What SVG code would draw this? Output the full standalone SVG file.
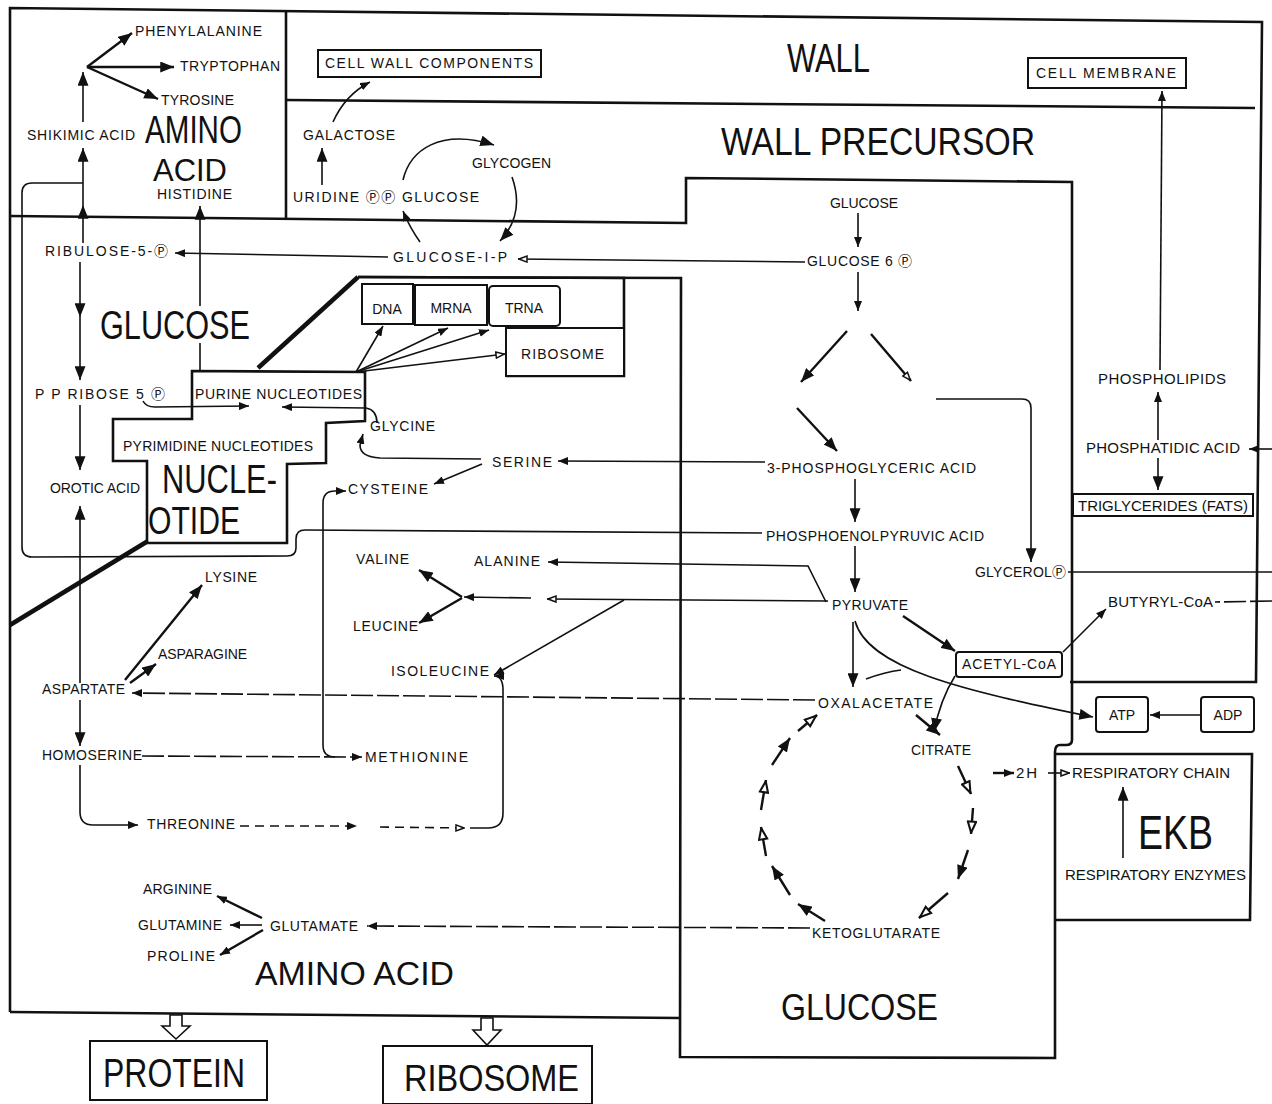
<svg xmlns="http://www.w3.org/2000/svg" width="1272" height="1104" viewBox="0 0 1272 1104">
<defs>
<style>
.t{font-family:"Liberation Sans","Noto Sans CJK JP",sans-serif;font-size:14px;fill:#111}
.m{font-size:15px}
.c{text-anchor:middle}
.big{font-family:"Liberation Sans",sans-serif;fill:#111}
.ln{fill:none;stroke:#111;stroke-width:1.6}
.th{fill:none;stroke:#111;stroke-width:2.4}
.ds{fill:none;stroke:#111;stroke-width:1.6;stroke-dasharray:22 4}
.dt{fill:none;stroke:#111;stroke-width:1.6;stroke-dasharray:9 6}
.cy{fill:none;stroke:#111;stroke-width:2.4}
.fr{fill:none;stroke:#111;stroke-width:2.6}
.hv{fill:none;stroke:#111;stroke-width:4.5}
.bx{fill:#fff;stroke:#111;stroke-width:2}
.ho{fill:#fff;stroke:#111;stroke-width:1.6}
</style>
<marker id="ah" viewBox="0 0 10 8" refX="10" refY="4" markerWidth="10" markerHeight="8" orient="auto" markerUnits="userSpaceOnUse"><path d="M0,0L10,4L0,8z" fill="#111"/></marker>
<marker id="aL" viewBox="0 0 10 8" refX="10" refY="4" markerWidth="14" markerHeight="11" orient="auto" markerUnits="userSpaceOnUse"><path d="M0,0L10,4L0,8z" fill="#111"/></marker>
<marker id="ao" viewBox="0 0 10 8" refX="10" refY="4" markerWidth="10" markerHeight="8" orient="auto" markerUnits="userSpaceOnUse"><path d="M1,1L9,4L1,7z" fill="#fff" stroke="#111" stroke-width="1.5"/></marker>
<marker id="aoL" viewBox="0 0 10 8" refX="10" refY="4" markerWidth="14" markerHeight="11" orient="auto" markerUnits="userSpaceOnUse"><path d="M1,1L9,4L1,7z" fill="#fff" stroke="#111" stroke-width="1.5"/></marker>
</defs>
<rect width="1272" height="1104" fill="#fff"/>

<g id="regions">
<path class="fr" d="M10,1012 L10,8 L1262,22 L1256,682 L1070,682"/>
<path class="fr" d="M286,10 L286,218"/>
<path class="fr" d="M286,100 L1255,108"/>
<path class="fr" d="M10,216 L686,223 L686,178 L1072,182 L1072,740 Q1072,745 1066,745 L1060,745 Q1055,745 1055,752 L1055,1058 L680,1057 L681,278 L358,277"/>
<path class="fr" d="M10,1012 L680,1018"/>
<path class="fr" d="M1055,754 L1252,754 L1250,920 L1055,920"/>
<path class="hv" d="M258,368 L358,277"/>
<path class="hv" d="M10,625 L148,541"/>
<path class="fr" d="M358,277 L624,278 L624,376 L506,376"/>
<text class="big" x="787" y="72" font-size="40" textLength="83" lengthAdjust="spacingAndGlyphs">WALL</text>
<text class="big" x="721" y="155" font-size="39" textLength="314" lengthAdjust="spacingAndGlyphs">WALL PRECURSOR</text>
<text class="big" x="145" y="143" font-size="38" textLength="97" lengthAdjust="spacingAndGlyphs">AMINO</text>
<text class="big" x="153" y="181" font-size="31" textLength="74" lengthAdjust="spacingAndGlyphs">ACID</text>
<text class="big" x="100" y="339" font-size="41" textLength="150" lengthAdjust="spacingAndGlyphs">GLUCOSE</text>
<text class="big" x="255" y="985" font-size="34" textLength="199" lengthAdjust="spacingAndGlyphs">AMINO ACID</text>
<text class="big" x="781" y="1020" font-size="37" textLength="157" lengthAdjust="spacingAndGlyphs">GLUCOSE</text>
<text class="big" x="1138" y="849" font-size="48" textLength="75" lengthAdjust="spacingAndGlyphs">EKB</text>
</g>

<g id="nucleotide">
<path class="fr" d="M192,371 L365,372 L365,421 L326,423 L326,463 L287,464 L287,543 L147,543 L147,461 L113,461 L113,419 L192,419 Z"/>
<text class="t" x="195" y="399" textLength="167">PURINE NUCLEOTIDES</text>
<text class="t" x="123" y="451" textLength="190">PYRIMIDINE NUCLEOTIDES</text>
<text class="big" x="162" y="493" font-size="41" textLength="115" lengthAdjust="spacingAndGlyphs">NUCLE-</text>
<text class="big" x="148" y="534" font-size="39" textLength="92" lengthAdjust="spacingAndGlyphs">OTIDE</text>
</g>

<g id="connectors">
<path class="th" d="M87,67 L132,33" marker-end="url(#aL)"/>
<path class="th" d="M87,67 L174,67" marker-end="url(#aL)"/>
<path class="th" d="M87,67 L158,99" marker-end="url(#aL)"/>
<path class="ln" d="M83,122 L83,72" marker-end="url(#aL)"/>
<path class="ln" d="M83,205 L83,148" marker-end="url(#aL)"/>
<path class="ln" d="M83,243 L83,205" marker-end="url(#aL)"/>
<path class="ln" d="M762,533 L305,530 Q296,530 296,539 L296,548 Q296,556 287,556 L32,557 Q22,557 22,547 L22,193 Q22,183 32,183 L83,183"/>
<path class="ln" d="M200,371 L200,343 M200,306 L200,206" marker-end="url(#aL)"/>
<path class="ln" d="M388,257 L175,253" marker-end="url(#ah)"/>
<path class="ln" d="M80,262 L80,317" marker-end="url(#aL)"/>
<path class="ln" d="M80,317 L80,380" marker-end="url(#aL)"/>
<path class="ln" d="M80,405 L80,470" marker-end="url(#aL)"/>
<path class="ln" d="M80,683 L80,506" marker-end="url(#aL)"/>
<path class="ln" d="M80,700 L80,746" marker-end="url(#aL)"/>
<path class="ln" d="M80,765 L80,812 Q80,825 93,825 L138,825" marker-end="url(#ah)"/>
<path class="th" d="M125,680 L202,585" marker-end="url(#aL)"/>
<path class="th" d="M130,683 L156,664" marker-end="url(#aL)"/>
<path class="ln" d="M143,401 Q146,407 155,407 L249,406" marker-end="url(#ah)"/>
<path class="ln" d="M377,423 Q377,410 366,408 L282,407" marker-end="url(#ah)"/>
<path class="ln" d="M481,459 L380,458 Q360,457 360,445 L363,434" marker-end="url(#ah)"/>
<path class="ln" d="M482,464 L434,484" marker-end="url(#ah)"/>
<path class="ln" d="M335,757 Q323,757 323,745 L323,503 Q323,491 335,491 L346,491" marker-end="url(#ah)"/>
<path class="ds" d="M142,756 L362,757" marker-end="url(#ah)"/>
<path class="ln" d="M765,462 L558,461" marker-end="url(#ah)"/>
<path class="ln" d="M858,213 L858,247" marker-end="url(#ah)"/>
<path class="ln" d="M805,262 L518,259" marker-end="url(#ao)"/>
<path class="ln" d="M858,272 L858,311" marker-end="url(#ah)"/>
<path class="th" d="M847,331 L801,382" marker-end="url(#aL)"/>
<path class="th" d="M871,334 L911,381" marker-end="url(#ao)"/>
<path class="th" d="M797,408 L837,451" marker-end="url(#aL)"/>
<path class="ln" d="M936,399 L1022,399 Q1031,399 1031,408 L1031,562" marker-end="url(#aL)"/>
<path class="ln" d="M855,479 L855,522" marker-end="url(#aL)"/>
<path class="ln" d="M855,546 L855,592" marker-end="url(#aL)"/>
<path class="ln" d="M826,602 L808,566 L548,562" marker-end="url(#ah)"/>
<path class="ln" d="M828,601 L547,599" marker-end="url(#ao)"/>
<path class="ln" d="M531,598 L464,597" marker-end="url(#ah)"/>
<path class="th" d="M462,597 L419,570" marker-end="url(#aL)"/>
<path class="th" d="M462,598 L419,623" marker-end="url(#aL)"/>
<path class="ln" d="M624,600 L494,675" marker-end="url(#ah)"/>
<path class="dt" d="M240,826 L357,826" marker-end="url(#ah)"/>
<path class="dt" d="M380,827 L465,828" marker-end="url(#ao)"/>
<path class="ln" d="M470,828 L488,828 Q503,828 503,813 L503,690 Q503,676 494,676" marker-end="url(#ah)"/>
<path class="ds" d="M815,700 L132,693" marker-end="url(#ah)"/>
<path class="ln" d="M853,622 L853,687" marker-end="url(#aL)"/>
<path class="th" d="M903,616 L955,651" marker-end="url(#aL)"/>
<path class="ln" d="M855,621 C868,668 960,690 1093,717" marker-end="url(#aL)"/>
<path class="ln" d="M866,679 Q885,672 901,670"/>
<path class="ln" d="M955,676 Q940,700 934,732" marker-end="url(#aL)"/>
<path class="th" d="M916,715 L940,735" marker-end="url(#aL)"/>
<path class="ln" d="M1063,652 L1106,609" marker-end="url(#ah)"/>
<path class="ln" d="M1201,715 L1150,715" marker-end="url(#ah)"/>
<path class="th" d="M993,773 L1014,773" marker-end="url(#ah)"/>
<path class="ln" d="M1048,773 L1070,773" marker-end="url(#ao)"/>
<path class="ln" d="M1123,858 L1123,787" marker-end="url(#aL)"/>
<path class="ds" d="M810,928 L367,926" marker-end="url(#ah)"/>
<path class="th" d="M262,918 L217,896" marker-end="url(#ah)"/>
<path class="ln" d="M262,925 L230,925" marker-end="url(#ah)"/>
<path class="th" d="M263,930 L220,955" marker-end="url(#ah)"/>
<path class="ln" d="M1158,440 L1158,392" marker-end="url(#ah)"/>
<path class="ln" d="M1158,458 L1158,490" marker-end="url(#aL)"/>
<path class="ln" d="M1160,370 L1162,91" marker-end="url(#ah)"/>
<path class="ln" d="M1272,449 L1249,449" marker-end="url(#ah)"/>
<path class="ln" d="M1272,572 L1068,572"/>
<path class="ds" d="M1272,601 L1215,602"/>
<path class="ln" d="M322,185 L322,148" marker-end="url(#aL)"/>
<path class="ln" d="M333,122 Q345,95 370,82" marker-end="url(#ah)"/>
<path class="ln" d="M420,242 Q410,228 403,211" marker-end="url(#ah)"/>
<path class="ln" d="M403,180 C410,150 440,128 494,145" marker-end="url(#aL)"/>
<path class="ln" d="M512,177 C522,205 515,225 500,241" marker-end="url(#aL)"/>
<path class="ln" d="M356,372 L383,326" marker-end="url(#ah)"/>
<path class="ln" d="M356,372 L448,328" marker-end="url(#ah)"/>
<path class="ln" d="M356,372 L489,330" marker-end="url(#ah)"/>
<path class="ln" d="M356,372 L505,354" marker-end="url(#ao)"/>
<path class="cy" d="M958,766 L971,794" marker-end="url(#aoL)"/>
<path class="cy" d="M973,808 L971,834" marker-end="url(#aoL)"/>
<path class="cy" d="M968,850 L958,879" marker-end="url(#aL)"/>
<path class="cy" d="M948,893 L919,918" marker-end="url(#aoL)"/>
<path class="cy" d="M825,921 L798,904" marker-end="url(#aL)"/>
<path class="cy" d="M790,895 L772,866" marker-end="url(#aL)"/>
<path class="cy" d="M766,856 L761,827" marker-end="url(#aoL)"/>
<path class="cy" d="M761,810 L766,780" marker-end="url(#aoL)"/>
<path class="cy" d="M772,765 L790,738" marker-end="url(#aL)"/>
<path class="cy" d="M798,731 L817,715" marker-end="url(#aoL)"/>
<path class="ho" d="M170,1015 L182,1015 L182,1026 L190,1026 L176,1039 L162,1026 L170,1026 Z"/>
<path class="ho" d="M481,1018 L493,1018 L493,1030 L501,1030 L487,1045 L473,1030 L481,1030 Z"/>
</g>

<g id="n-phenylalanine"><text class="t" x="135" y="36" textLength="127">PHENYLALANINE</text></g>
<g id="n-tryptophan"><text class="t" x="180" y="71" textLength="100">TRYPTOPHAN</text></g>
<g id="n-tyrosine"><text class="t" x="161" y="105" textLength="73">TYROSINE</text></g>
<g id="n-shikimic"><text class="t" x="27" y="140" textLength="108">SHIKIMIC ACID</text></g>
<g id="n-histidine"><text class="t" x="157" y="199" textLength="75">HISTIDINE</text></g>
<g id="n-cellwall"><rect class="bx" x="318" y="50" width="223" height="27"/><text class="t" x="325" y="68" textLength="208">CELL WALL COMPONENTS</text></g>
<g id="n-cellmembrane"><rect class="bx" x="1028" y="58" width="158" height="30"/><text class="t" x="1036" y="78" textLength="140">CELL MEMBRANE</text></g>
<g id="n-galactose"><text class="t" x="303" y="140" textLength="92">GALACTOSE</text></g>
<g id="n-udpglucose"><text class="t" x="293" y="202" textLength="186">URIDINE ⓅⓅ GLUCOSE</text></g>
<g id="n-glycogen"><text class="t" x="472" y="168" textLength="79">GLYCOGEN</text></g>
<g id="n-g1p"><text class="t" x="393" y="262" textLength="114">GLUCOSE-I-P</text></g>
<g id="n-ribulose"><text class="t" x="45" y="256" textLength="123">RIBULOSE-5-Ⓟ</text></g>
<g id="n-glucose"><text class="t" x="830" y="208" textLength="68">GLUCOSE</text></g>
<g id="n-g6p"><text class="t" x="807" y="266" textLength="105">GLUCOSE 6 Ⓟ</text></g>
<g id="n-ppribose"><text class="t" x="35" y="399" textLength="130">P P RIBOSE 5 Ⓟ</text></g>
<g id="n-orotic"><text class="t" x="50" y="493" textLength="90">OROTIC ACID</text></g>
<g id="n-glycine"><text class="t" x="370" y="431" textLength="65">GLYCINE</text></g>
<g id="n-serine"><text class="t" x="492" y="467" textLength="60">SERINE</text></g>
<g id="n-cysteine"><text class="t" x="348" y="494" textLength="80">CYSTEINE</text></g>
<g id="n-pga"><text class="t" x="767" y="473" textLength="209">3-PHOSPHOGLYCERIC ACID</text></g>
<g id="n-pep"><text class="t" x="766" y="541" textLength="218">PHOSPHOENOLPYRUVIC ACID</text></g>
<g id="n-valine"><text class="t" x="356" y="564" textLength="53">VALINE</text></g>
<g id="n-alanine"><text class="t" x="474" y="566" textLength="66">ALANINE</text></g>
<g id="n-leucine"><text class="t" x="353" y="631" textLength="65">LEUCINE</text></g>
<g id="n-pyruvate"><text class="t" x="832" y="610" textLength="76">PYRUVATE</text></g>
<g id="n-glycerol"><text class="t" x="975" y="577" textLength="91">GLYCEROLⓅ</text></g>
<g id="n-butyryl"><text class="t m" x="1108" y="607" textLength="105">BUTYRYL-CoA</text></g>
<g id="n-lysine"><text class="t" x="205" y="582" textLength="52">LYSINE</text></g>
<g id="n-asparagine"><text class="t" x="158" y="659" textLength="89">ASPARAGINE</text></g>
<g id="n-isoleucine"><text class="t" x="391" y="676" textLength="98">ISOLEUCINE</text></g>
<g id="n-aspartate"><text class="t" x="42" y="694" textLength="83">ASPARTATE</text></g>
<g id="n-acetylcoa"><rect class="bx" x="956" y="652" width="106" height="25" rx="3"/><text class="t" x="962" y="669" textLength="94">ACETYL-CoA</text></g>
<g id="n-oxalacetate"><text class="t" x="818" y="708" textLength="115">OXALACETATE</text></g>
<g id="n-atp"><rect class="bx" x="1096" y="697" width="52" height="35" rx="3"/><text class="t c" x="1122" y="720">ATP</text></g>
<g id="n-adp"><rect class="bx" x="1201" y="697" width="53" height="35" rx="3"/><text class="t c" x="1228" y="720">ADP</text></g>
<g id="n-citrate"><text class="t" x="911" y="755" textLength="60">CITRATE</text></g>
<g id="n-homoserine"><text class="t" x="42" y="760" textLength="100">HOMOSERINE</text></g>
<g id="n-methionine"><text class="t" x="365" y="762" textLength="103">METHIONINE</text></g>
<g id="n-2h"><text class="t m" x="1016" y="778" textLength="21">2H</text></g>
<g id="n-respchain"><text class="t m" x="1072" y="778" textLength="158">RESPIRATORY CHAIN</text></g>
<g id="n-respenz"><text class="t m" x="1065" y="880" textLength="181">RESPIRATORY ENZYMES</text></g>
<g id="n-threonine"><text class="t" x="147" y="829" textLength="88">THREONINE</text></g>
<g id="n-arginine"><text class="t" x="143" y="894" textLength="69">ARGININE</text></g>
<g id="n-glutamine"><text class="t" x="138" y="930" textLength="84">GLUTAMINE</text></g>
<g id="n-glutamate"><text class="t" x="270" y="931" textLength="88">GLUTAMATE</text></g>
<g id="n-proline"><text class="t" x="147" y="961" textLength="68">PROLINE</text></g>
<g id="n-ketoglutarate"><text class="t" x="812" y="938" textLength="128">KETOGLUTARATE</text></g>
<g id="n-phospholipids"><text class="t m" x="1098" y="384" textLength="128">PHOSPHOLIPIDS</text></g>
<g id="n-phosphatidic"><text class="t m" x="1086" y="453" textLength="154">PHOSPHATIDIC ACID</text></g>
<g id="n-triglycerides"><rect class="bx" x="1073" y="494" width="180" height="22"/><text class="t m" x="1078" y="511" textLength="170">TRIGLYCERIDES (FATS)</text></g>
<g id="n-dna"><rect class="bx" x="362" y="284" width="51" height="40"/><text class="t c" x="387" y="314">DNA</text></g>
<g id="n-mrna"><rect class="bx" x="415" y="285" width="72" height="40"/><text class="t c" x="451" y="313">MRNA</text></g>
<g id="n-trna"><rect class="bx" x="489" y="286" width="71" height="40" rx="4"/><text class="t c" x="524" y="313">TRNA</text></g>
<g id="n-ribosome-small"><rect class="bx" x="506" y="328" width="118" height="48"/><text class="t" x="521" y="359" textLength="83">RIBOSOME</text></g>
<g id="n-protein"><rect class="bx" x="90" y="1041" width="177" height="59"/><text class="big" x="103" y="1087" font-size="41" textLength="142" lengthAdjust="spacingAndGlyphs">PROTEIN</text></g>
<g id="n-ribosome"><rect class="bx" x="383" y="1046" width="209" height="58"/><text class="big" x="404" y="1091" font-size="36" textLength="175" lengthAdjust="spacingAndGlyphs">RIBOSOME</text></g>
</svg>
